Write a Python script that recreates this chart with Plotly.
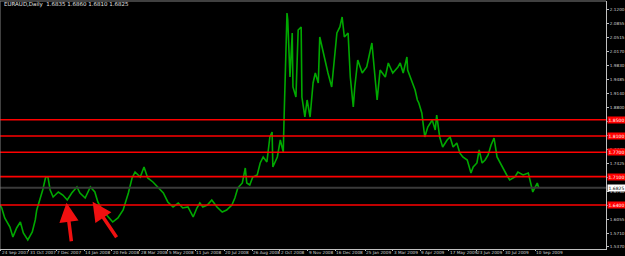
import plotly.graph_objects as go

# ---------------- data ----------------
dates = [
 "2007-09-23","2007-09-25","2007-09-29","2007-10-06","2007-10-10","2007-10-15","2007-10-20","2007-10-24",
 "2007-10-30","2007-11-05","2007-11-09","2007-11-11","2007-11-15","2007-11-19","2007-11-23","2007-11-26",
 "2007-11-29","2007-12-03","2007-12-10","2007-12-16","2007-12-22","2007-12-28","2008-01-04","2008-01-08",
 "2008-01-15","2008-01-22","2008-01-28","2008-02-01","2008-02-07","2008-02-13","2008-02-21","2008-02-28",
 "2008-03-06","2008-03-13","2008-03-18","2008-03-22","2008-03-29","2008-04-03","2008-04-08","2008-04-15",
 "2008-04-22","2008-04-29","2008-05-05","2008-05-12","2008-05-19","2008-05-25","2008-06-01","2008-06-08",
 "2008-06-13","2008-06-17","2008-06-21","2008-06-27","2008-07-03","2008-07-10","2008-07-17","2008-07-23",
 "2008-07-30","2008-08-03","2008-08-07","2008-08-13","2008-08-17","2008-08-19","2008-08-23","2008-08-27",
 "2008-09-02","2008-09-06","2008-09-10","2008-09-15","2008-09-19","2008-09-22","2008-09-23","2008-09-29",
 "2008-10-03","2008-10-07","2008-10-08","2008-10-09","2008-10-12","2008-10-13","2008-10-16","2008-10-19",
 "2008-10-20","2008-10-24","2008-10-27","2008-10-31","2008-11-01","2008-11-05","2008-11-08","2008-11-12",
 "2008-11-16","2008-11-19","2008-11-23","2008-11-25","2008-11-29","2008-12-02","2008-12-06","2008-12-11",
 "2008-12-15","2008-12-18","2008-12-22","2008-12-25","2008-12-28","2009-01-02","2009-01-05","2009-01-09",
 "2009-01-11","2009-01-15","2009-01-21","2009-01-27","2009-02-03","2009-02-06","2009-02-10","2009-02-14",
 "2009-02-21","2009-02-25","2009-03-03","2009-03-10","2009-03-13","2009-03-17","2009-03-22","2009-03-23",
 "2009-03-29","2009-04-02","2009-04-05","2009-04-07","2009-04-11","2009-04-13","2009-04-15","2009-04-19",
 "2009-04-25","2009-04-29","2009-05-01","2009-05-05","2009-05-09","2009-05-15","2009-05-19","2009-05-23",
 "2009-05-28","2009-06-01","2009-06-05","2009-06-11","2009-06-16","2009-06-19","2009-06-24","2009-06-27",
 "2009-07-01","2009-07-05","2009-07-09","2009-07-13","2009-07-17","2009-07-21","2009-07-25","2009-07-29",
 "2009-08-03","2009-08-07","2009-08-14","2009-08-18","2009-08-25","2009-09-01","2009-09-03","2009-09-07",
 "2009-09-13","2009-09-15",
]
prices = [
 1.6402,1.6328,1.6082,1.5860,1.5614,1.5836,1.5983,1.5713,
 1.5541,1.5737,1.6033,1.6279,1.6525,1.6771,1.7091,1.7091,
 1.6771,1.6599,1.6722,1.6648,1.6525,1.6697,1.6845,1.6697,
 1.6574,1.6845,1.6722,1.6476,1.6279,1.6156,1.5983,1.6082,
 1.6279,1.6697,1.7066,1.7214,1.7091,1.7337,1.7066,1.6968,
 1.6845,1.6697,1.6476,1.6353,1.6451,1.6328,1.6353,1.6107,
 1.6328,1.6451,1.6353,1.6402,1.6525,1.6353,1.6230,1.6279,
 1.6402,1.6574,1.6820,1.6943,1.7312,1.6943,1.6894,1.7091,
 1.7140,1.7435,1.7583,1.7460,1.8075,1.8198,1.7337,1.7583,
 1.8001,1.7706,1.8493,1.9305,2.1126,2.0954,1.9551,2.0634,
 1.9305,1.9059,2.0708,2.0782,1.9059,1.8567,1.8985,1.8567,
 1.9404,1.9650,1.9404,2.0536,2.0216,1.9896,1.9650,1.9305,
 1.9970,2.0634,2.0782,2.1028,2.0536,2.0634,1.9551,1.8813,
 1.9305,1.9970,1.9650,1.9797,2.0388,1.9797,1.8985,1.9724,
 1.9551,1.9896,1.9650,1.9797,1.9896,1.9650,2.0044,1.9724,
 1.9404,1.9232,1.8985,1.8912,1.8666,1.8321,1.8075,1.8321,
 1.8493,1.8247,1.8616,1.8075,1.7829,1.8001,1.8075,1.7829,
 1.7927,1.7681,1.7583,1.7509,1.7189,1.7337,1.7435,1.7755,
 1.7435,1.7509,1.7632,1.7878,1.8050,1.7583,1.7435,1.7312,
 1.7140,1.7017,1.7091,1.7214,1.7140,1.7189,1.7017,1.6722,
 1.6943,1.6825,
]

x_range = ["2007-09-22 16:00", "2009-12-14 07:00"]
y_range = [1.5319, 2.1421]

x_tick_dates = ["2007-09-24","2007-10-31","2007-12-07","2008-01-14","2008-02-20","2008-03-28",
                "2008-05-05","2008-06-11","2008-07-20","2008-08-26","2008-10-02","2008-11-09",
                "2008-12-16","2009-01-25","2009-03-03","2009-04-09","2009-05-17","2009-06-23",
                "2009-07-30","2009-09-10"]
x_tick_text = ["24 Sep 2007","31 Oct 2007","7 Dec 2007","14 Jan 2008","20 Feb 2008","28 Mar 2008",
               "5 May 2008","11 Jun 2008","20 Jul 2008","26 Aug 2008","2 Oct 2008","9 Nov 2008",
               "16 Dec 2008","25 Jan 2009","3 Mar 2009","9 Apr 2009","17 May 2009","23 Jun 2009",
               "30 Jul 2009","10 Sep 2009"]

# price-scale labels; those lying under a level tag are hidden by the tag in the original
y_tick_vals = [2.1200,2.0857,2.0514,2.0171,1.9828,1.9485,1.9142,1.8799,1.8456,1.8113,
               1.7770,1.7427,1.7084,1.6741,1.6398,1.6055,1.5712,1.5369]
y_tick_text = ["2.1200","2.0855","2.0515","2.0170","1.9830","1.9485","1.9140","1.8800","","",
               "1.7770","1.7425","","1.6740","","1.6055","1.5710","1.5370"]

levels = [1.8500, 1.8100, 1.7700, 1.7100, 1.6400]
level_text = ["1.8500", "1.8100", "1.7700", "1.7100", "1.6400"]
last_price = 1.6825
header = "EURAUD,Daily  1.6835 1.6860 1.6810 1.6825"

# arrows: tip (date, price) and tail offset
arrow_tips = [("2007-12-21", 1.6458), ("2008-01-25", 1.6483)]
arrow_tails = [(5, 40), (25, 37)]

# ---------------- figure ----------------
fig = go.Figure()

fig.add_trace(go.Scatter(x=dates, y=prices, mode="lines",
                         line=dict(color="#00a800", width=1.6), hoverinfo="skip"))

fig.add_hline(y=last_price, line=dict(color="#3a3a3a", width=2))
for lv in levels:
    fig.add_hline(y=lv, line=dict(color="#ff0000", width=1.6))

anns = []
for lv, t in zip(levels, level_text):
    anns.append(dict(xref="paper", yref="y", x=1.0, y=lv, xanchor="left", yanchor="middle",
                     text=t, showarrow=False, bgcolor="#ff0000",
                     font=dict(family="DejaVu Sans", size=4.5, color="#ffffff"),
                     borderpad=0.5, xshift=1))
anns.append(dict(xref="paper", yref="y", x=1.0, y=last_price, xanchor="left", yanchor="middle",
                 text=f"{last_price:.4f}", showarrow=False, bgcolor="#ffffff",
                 font=dict(family="DejaVu Sans", size=4.5, color="#000000"),
                 borderpad=0.5, xshift=1))
anns.append(dict(xref="paper", yref="paper", x=0.004, y=0.985, xanchor="left", yanchor="middle",
                 text=header, showarrow=False,
                 font=dict(family="DejaVu Sans", size=5.5, color="#e0e0e0")))
# date labels, left-aligned at their tick like the MetaTrader time scale
for d, t in zip(x_tick_dates, x_tick_text):
    anns.append(dict(x=d, y=0, xref="x", yref="paper", xanchor="left", yanchor="top",
                     text=t, showarrow=False, xshift=0, yshift=0, borderpad=0,
                     font=dict(family="DejaVu Sans", size=4.2, color="#d0d0d0")))
for (tx, ty), (ax, ay) in zip(arrow_tips, arrow_tails):
    anns.append(dict(x=tx, y=ty, xref="x", yref="y", ax=ax, ay=ay, text="",
                     showarrow=True, arrowhead=2, arrowsize=1.1, arrowwidth=3.5,
                     arrowcolor="#f01010", standoff=0))

fig.update_layout(
    width=625, height=256,
    margin=dict(l=0, r=19, t=1, b=7, autoexpand=False),
    paper_bgcolor="#000000", plot_bgcolor="#000000",
    showlegend=False,
    annotations=anns,
    xaxis=dict(type="date", range=x_range, showgrid=False, zeroline=False, automargin=False,
               tickmode="array", tickvals=x_tick_dates, showticklabels=False,
               ticks="outside", ticklen=1, tickcolor="#c0c0c0",
               showline=True, linecolor="#c0c0c0", linewidth=1, mirror=False),
    yaxis=dict(range=y_range, side="right", showgrid=False, zeroline=False, automargin=False,
               tickmode="array", tickvals=y_tick_vals, ticktext=y_tick_text,
               ticks="outside", ticklen=2, tickcolor="#c0c0c0",
               tickfont=dict(family="DejaVu Sans", size=4.2, color="#d0d0d0"),
               showline=True, linecolor="#c0c0c0", linewidth=1),
)
fig.add_shape(type="line", xref="paper", yref="paper", x0=0, x1=1, y0=1, y1=1,
              line=dict(color="#808080", width=1))
fig.add_shape(type="line", xref="paper", yref="paper", x0=0, x1=0, y0=0, y1=1,
              line=dict(color="#808080", width=1))

fig.write_html("out.html")
